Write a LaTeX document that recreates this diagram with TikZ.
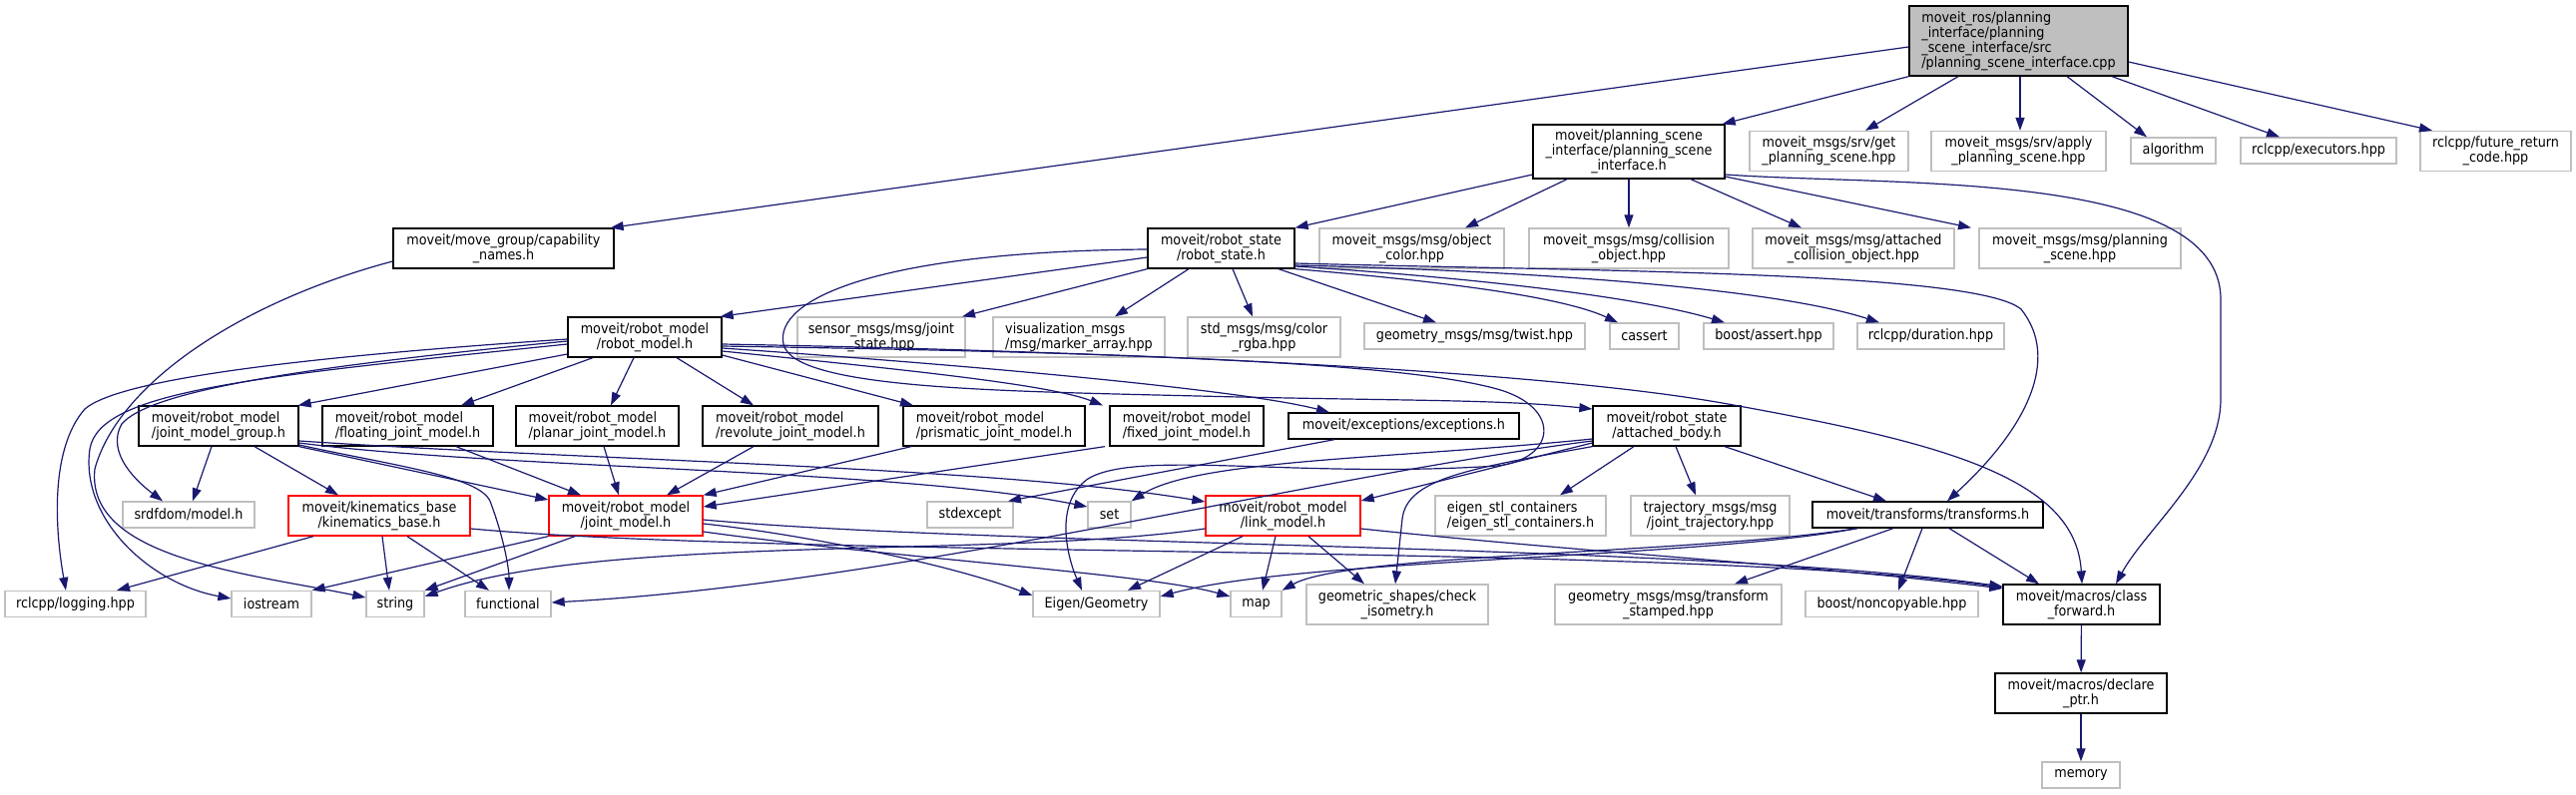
\documentclass[tikz,border=0pt]{standalone}
\usepackage{fontspec}
\setmainfont{DejaVu Sans Condensed}
\usetikzlibrary{arrows.meta}
\definecolor{edgeblue}{HTML}{191970}
\definecolor{greyline}{HTML}{BFBFBF}
\begin{document}
\begin{tikzpicture}[x=1pt,y=-1pt,
  box/.style={draw=black, line width=1.3pt, fill=white, inner sep=0pt, align=center, font=\fontsize{14.2}{15}\selectfont},
  gbox/.style={box, draw=greyline},
  rbox/.style={box, draw=red},
  rootbox/.style={box, fill=greyline, align=left},
  edge/.style={draw=edgeblue, line width=1.2pt, -{Triangle[length=13pt,width=9pt]}}]
\useasboundingbox (0,0) rectangle (2581,796);
% ---- nodes ----
\node[rootbox, minimum width=219pt, minimum height=70pt] (root) at (2022.5,41) {moveit\_ros/planning\\\_interface/planning\\\_scene\_interface/src\\/planning\_scene\_interface.cpp};
\node[box, minimum width=192pt, minimum height=54pt] (psi) at (1632,152) {moveit/planning\_scene\\\_interface/planning\_scene\\\_interface.h};
\node[gbox, minimum width=159pt, minimum height=40pt] (getps) at (1832.5,151.5) {moveit\_msgs/srv/get\\\_planning\_scene.hpp};
\node[gbox, minimum width=175pt, minimum height=40pt] (applyps) at (2022.5,151.5) {moveit\_msgs/srv/apply\\\_planning\_scene.hpp};
\node[gbox, minimum width=85pt, minimum height=26pt] (algorithm) at (2177.5,151) {algorithm};
\node[gbox, minimum width=156pt, minimum height=26pt] (executors) at (2323,151) {rclcpp/executors.hpp};
\node[gbox, minimum width=151pt, minimum height=40pt] (future) at (2500.5,151.5) {rclcpp/future\_return\\\_code.hpp};
\node[box, minimum width=221pt, minimum height=40pt] (capnames) at (504.5,249) {moveit/move\_group/capability\\\_names.h};
\node[box, minimum width=147pt, minimum height=40pt] (robotstate) at (1223.5,249) {moveit/robot\_state\\/robot\_state.h};
\node[gbox, minimum width=185pt, minimum height=40pt] (objcolor) at (1414.5,249) {moveit\_msgs/msg/object\\\_color.hpp};
\node[gbox, minimum width=200pt, minimum height=40pt] (collobj) at (1632,249) {moveit\_msgs/msg/collision\\\_object.hpp};
\node[gbox, minimum width=202pt, minimum height=40pt] (attcoll) at (1857,249) {moveit\_msgs/msg/attached\\\_collision\_object.hpp};
\node[gbox, minimum width=202pt, minimum height=40pt] (planscene) at (2084,249) {moveit\_msgs/msg/planning\\\_scene.hpp};
\node[box, minimum width=154pt, minimum height=40pt] (robotmodel) at (646,338) {moveit/robot\_model\\/robot\_model.h};
\node[gbox, minimum width=168pt, minimum height=40pt] (sensor) at (883,338) {sensor\_msgs/msg/joint\\\_state.hpp};
\node[gbox, minimum width=172pt, minimum height=40pt, align=left] (visual) at (1081,338) {visualization\_msgs\\/msg/marker\_array.hpp};
\node[gbox, minimum width=153pt, minimum height=40pt] (stdmsgs) at (1266.5,338) {std\_msgs/msg/color\\\_rgba.hpp};
\node[gbox, minimum width=221pt, minimum height=26pt] (twist) at (1477.5,337) {geometry\_msgs/msg/twist.hpp};
\node[gbox, minimum width=69pt, minimum height=26pt] (cassert) at (1647.5,337) {cassert};
\node[gbox, minimum width=130pt, minimum height=26pt] (bassert) at (1772,337) {boost/assert.hpp};
\node[gbox, minimum width=147pt, minimum height=26pt] (duration) at (1934.5,337) {rclcpp/duration.hpp};
\node[box, minimum width=160pt, minimum height=40pt, align=left] (jmg) at (219,427) {moveit/robot\_model\\/joint\_model\_group.h};
\node[box, minimum width=171pt, minimum height=40pt, align=left] (floating) at (408.5,427) {moveit/robot\_model\\/floating\_joint\_model.h};
\node[box, minimum width=163pt, minimum height=40pt, align=left] (planar) at (598.5,427) {moveit/robot\_model\\/planar\_joint\_model.h};
\node[box, minimum width=176pt, minimum height=40pt, align=left] (revolute) at (792,427) {moveit/robot\_model\\/revolute\_joint\_model.h};
\node[box, minimum width=182pt, minimum height=40pt, align=left] (prismatic) at (996,427) {moveit/robot\_model\\/prismatic\_joint\_model.h};
\node[box, minimum width=154pt, minimum height=40pt, align=left] (fixed) at (1189,427) {moveit/robot\_model\\/fixed\_joint\_model.h};
\node[box, minimum width=231pt, minimum height=26pt] (exceptions) at (1406.5,427) {moveit/exceptions/exceptions.h};
\node[box, minimum width=148pt, minimum height=40pt] (attbody) at (1670,427) {moveit/robot\_state\\/attached\_body.h};
\node[gbox, minimum width=132pt, minimum height=26pt] (srdf) at (189,516) {srdfdom/model.h};
\node[rbox, minimum width=182pt, minimum height=40pt] (kinbase) at (380,517) {moveit/kinematics\_base\\/kinematics\_base.h};
\node[rbox, minimum width=154pt, minimum height=40pt] (jointmodel) at (627,517) {moveit/robot\_model\\/joint\_model.h};
\node[gbox, minimum width=86pt, minimum height=26pt] (stdexcept) at (972,516) {stdexcept};
\node[gbox, minimum width=43pt, minimum height=26pt] (set) at (1111.5,516) {set};
\node[rbox, minimum width=155pt, minimum height=40pt] (linkmodel) at (1285.5,517) {moveit/robot\_model\\/link\_model.h};
\node[gbox, minimum width=171pt, minimum height=40pt, align=left] (eigenstl) at (1523.5,517) {eigen\_stl\_containers\\/eigen\_stl\_containers.h};
\node[gbox, minimum width=159pt, minimum height=40pt] (trajmsg) at (1713.5,517) {trajectory\_msgs/msg\\/joint\_trajectory.hpp};
\node[box, minimum width=231pt, minimum height=26pt] (transforms) at (1931.5,516) {moveit/transforms/transforms.h};
\node[gbox, minimum width=141pt, minimum height=26pt] (logging) at (75.5,605.5) {rclcpp/logging.hpp};
\node[gbox, minimum width=80pt, minimum height=26pt] (iostream) at (272,605.5) {iostream};
\node[gbox, minimum width=58pt, minimum height=26pt] (string) at (396,605.5) {string};
\node[gbox, minimum width=86pt, minimum height=26pt] (functional) at (509,605.5) {functional};
\node[gbox, minimum width=127pt, minimum height=26pt] (eigengeo) at (1098.5,605.5) {Eigen/Geometry};
\node[gbox, minimum width=51pt, minimum height=26pt] (map) at (1258.5,605.5) {map};
\node[gbox, minimum width=182pt, minimum height=40pt] (checkiso) at (1400,606) {geometric\_shapes/check\\\_isometry.h};
\node[gbox, minimum width=227pt, minimum height=40pt] (tfstamped) at (1671.5,606) {geometry\_msgs/msg/transform\\\_stamped.hpp};
\node[gbox, minimum width=173pt, minimum height=26pt] (noncopy) at (1895.5,605.5) {boost/noncopyable.hpp};
\node[box, minimum width=157pt, minimum height=40pt] (classfwd) at (2085.5,606) {moveit/macros/class\\\_forward.h};
\node[box, minimum width=172pt, minimum height=40pt] (declptr) at (2085,695) {moveit/macros/declare\\\_ptr.h};
\node[gbox, minimum width=78pt, minimum height=26pt] (memory) at (2085,777) {memory};
% ---- edges: root ----
\draw[edge] (root.west |- 0,47) -- ([xshift=-4pt]capnames.north east);
\draw[edge] (root.south west) -- ([xshift=-3pt]psi.north east);
\draw[edge] (root.south -| 1962,0) -- (getps.north -| 1869,0);
\draw[edge] (root.south -| 2024,0) -- (applyps.north -| 2024,0);
\draw[edge] (root.south -| 2071,0) -- (algorithm.north -| 2151,0);
\draw[edge] (root.south -| 2116,0) -- (executors.north -| 2284,0);
\draw[edge] (root.east |- 0,62) -- (future.north -| 2437,0);
% ---- psi ----
\draw[edge] (psi.west |- 0,175) -- (robotstate.north east);
\draw[edge] (psi.south -| 1570,0) -- (objcolor.north -| 1468,0);
\draw[edge] (psi.south) -- (collobj.north);
\draw[edge] (psi.south -| 1694,0) -- (attcoll.north -| 1805,0);
\draw[edge] (psi.east |- 0,177) -- (planscene.north -| 1975,0);
\draw[edge] (psi.east |- 0,175) .. controls (1900,187) and (2225,170) .. (2225,300) -- (2225,400) .. controls (2225,470) and (2150,530) .. (classfwd.north -| 2120,0);
% ---- robot_state ----
\draw[edge] (robotstate.west |- 0,258) -- ([xshift=-2pt]robotmodel.north east);
\draw[edge] (robotstate.south west) -- (sensor.north -| 964,0);
\draw[edge] (robotstate.south -| 1191,0) -- (visual.north -| 1117,0);
\draw[edge] (robotstate.south -| 1235,0) -- (stdmsgs.north -| 1255,0);
\draw[edge] (robotstate.south -| 1281,0) -- (twist.north -| 1439,0);
\draw[edge] (robotstate.south east) .. controls (1420,280) and (1560,295) .. (cassert.north -| 1621,0);
\draw[edge] (robotstate.east |- 0,267) .. controls (1500,280) and (1650,300) .. (bassert.north -| 1728,0);
\draw[edge] (robotstate.east |- 0,266) .. controls (1550,272) and (1780,290) .. (duration.north -| 1883,0);
\draw[edge] (robotstate.east |- 0,264) .. controls (1600,272) and (1980,272) .. (2025,310) .. controls (2065,360) and (2030,430) .. (transforms.north -| 1951,0);
\draw[edge] (robotstate.west |- 0,250) .. controls (880,252) and (775,300) .. (785,345) .. controls (795,390) and (1000,392) .. (1200,397) .. controls (1400,402) and (1500,400) .. (attbody.west |- 0,410);
% ---- robot_model ----
\draw[edge] (robotmodel.west |- 0,355) -- ([xshift=-1pt]jmg.north east);
\draw[edge] (robotmodel.south -| 594,0) -- (floating.north -| 462,0);
\draw[edge] (robotmodel.south -| 635,0) -- (planar.north -| 612,0);
\draw[edge] (robotmodel.south -| 678,0) -- (revolute.north -| 755,0);
\draw[edge] (robotmodel.east |- 0,356) -- (prismatic.north -| 915,0);
\draw[edge] (robotmodel.east |- 0,352) .. controls (900,370) and (1050,385) .. (fixed.north -| 1105,0);
\draw[edge] (robotmodel.east |- 0,349) .. controls (1000,368) and (1250,392) .. (exceptions.north -| 1332,0);
\draw[edge] (robotmodel.east |- 0,345) .. controls (1100,352) and (1550,370) .. (1742,407) .. controls (1950,445) and (2080,480) .. (classfwd.north -| 2086,0);
\draw[edge] (robotmodel.east |- 0,347) .. controls (1100,353) and (1400,362) .. (1500,390) .. controls (1565,408) and (1560,460) .. (1500,467) .. controls (1300,480) and (1140,450) .. (1090,480) .. controls (1055,505) and (1070,560) .. (eigengeo.north -| 1084,0);
\draw[edge] (robotmodel.west |- 0,340) .. controls (300,358) and (120,380) .. (85,410) .. controls (50,450) and (55,530) .. (logging.north -| 66,0);
\draw[edge] (robotmodel.west |- 0,342) .. controls (300,368) and (150,392) .. (122,425) .. controls (105,455) and (140,485) .. (srdf.north -| 163,0);
\draw[edge] (robotmodel.west |- 0,345) .. controls (250,378) and (100,392) .. (90,450) .. controls (80,520) and (150,585) .. (iostream.west |- 0,600);
% ---- capability names ----
\draw[edge] (capnames.west |- 0,262) .. controls (250,300) and (120,380) .. (95,470) .. controls (85,560) and (250,575) .. (string.west |- 0,599);
% ---- joint_model_group ----
\draw[edge] (jmg.south -| 212,0) -- (srdf.north -| 193,0);
\draw[edge] (jmg.south -| 255,0) -- (kinbase.north -| 339,0);
\draw[edge] (jmg.south east) -- (jointmodel.west |- 0,501);
\draw[edge] (jmg.east |- 0,446) .. controls (400,468) and (485,478) .. (492,505) .. controls (505,540) and (510,570) .. (functional.north -| 510,0);
\draw[edge] (jmg.east |- 0,444) .. controls (500,470) and (900,470) .. (set.west |- 0,508);
\draw[edge] (jmg.east |- 0,442) .. controls (600,462) and (1000,468) .. (linkmodel.west |- 0,503);
% ---- joint models ----
\draw[edge] (floating.south -| 457,0) -- (jointmodel.north -| 582,0);
\draw[edge] (planar.south -| 605,0) -- (jointmodel.north -| 620,0);
\draw[edge] (revolute.south -| 755,0) -- (jointmodel.north -| 668,0);
\draw[edge] (prismatic.south -| 913,0) -- (jointmodel.north east);
\draw[edge] (fixed.south -| 1107,0) -- (jointmodel.east |- 0,508);
\draw[edge] (exceptions.south -| 1337,0) -- (stdexcept.north -| 1010,0);
% ---- kinematics_base ----
\draw[edge] (kinbase.south -| 314,0) -- (logging.north -| 117,0);
\draw[edge] (kinbase.south -| 383,0) -- (string.north -| 390,0);
\draw[edge] (kinbase.south -| 408,0) -- (functional.north -| 490,0);
\draw[edge] (kinbase.east |- 0,530) .. controls (800,560) and (1700,545) .. (classfwd.west |- 0,589);
% ---- joint_model ----
\draw[edge] (jointmodel.south west) -- (iostream.north east);
\draw[edge] (jointmodel.south -| 576,0) -- (string.north east);
\draw[edge] (jointmodel.east |- 0,525) .. controls (800,535) and (950,565) .. (eigengeo.west |- 0,597);
\draw[edge] (jointmodel.east |- 0,533) .. controls (900,560) and (1150,575) .. (map.west |- 0,598);
\draw[edge] (jointmodel.east |- 0,521) .. controls (1000,548) and (1700,545) .. (classfwd.west |- 0,588);
% ---- link_model ----
\draw[edge] (linkmodel.south -| 1245,0) -- (eigengeo.north -| 1130,0);
\draw[edge] (linkmodel.south -| 1278,0) -- (map.north -| 1265,0);
\draw[edge] (linkmodel.south -| 1311,0) -- (checkiso.north -| 1367,0);
\draw[edge] (linkmodel.east |- 0,530) .. controls (1600,555) and (1800,565) .. (classfwd.west |- 0,590);
\draw[edge] (linkmodel.west |- 0,530) .. controls (1000,560) and (600,535) .. (string.east |- 0,598);
% ---- attached_body ----
\draw[edge] (attbody.west |- 0,444) -- (linkmodel.east |- 0,502);
\draw[edge] (attbody.west |- 0,440) .. controls (1400,460) and (1200,460) .. (set.north east);
\draw[edge] (attbody.south -| 1637,0) -- (eigenstl.north -| 1563,0);
\draw[edge] (attbody.south -| 1679,0) -- (trajmsg.north -| 1699,0);
\draw[edge] (attbody.south -| 1728,0) -- (transforms.north -| 1890,0);
\draw[edge] (attbody.south west) .. controls (1470,470) and (1410,480) .. (1405,520) -- (checkiso.north -| 1398,0);
\draw[edge] (attbody.west |- 0,442) .. controls (1300,480) and (900,585) .. (functional.east |- 0,604);
% ---- transforms ----
\draw[edge] (transforms.south -| 1897,0) -- (tfstamped.north -| 1738,0);
\draw[edge] (transforms.south -| 1926,0) -- (noncopy.north -| 1902,0);
\draw[edge] (transforms.south -| 1953,0) -- (classfwd.north -| 2043,0);
\draw[edge] (transforms.south -| 1861,0) .. controls (1700,560) and (1300,560) .. (eigengeo.east |- 0,598);
\draw[edge] (transforms.south -| 1861,0) .. controls (1700,555) and (1350,555) .. (map.north east);
% ---- macros ----
\draw[edge] (classfwd) -- (declptr);
\draw[edge] (declptr) -- (memory);
\end{tikzpicture}
\end{document}
